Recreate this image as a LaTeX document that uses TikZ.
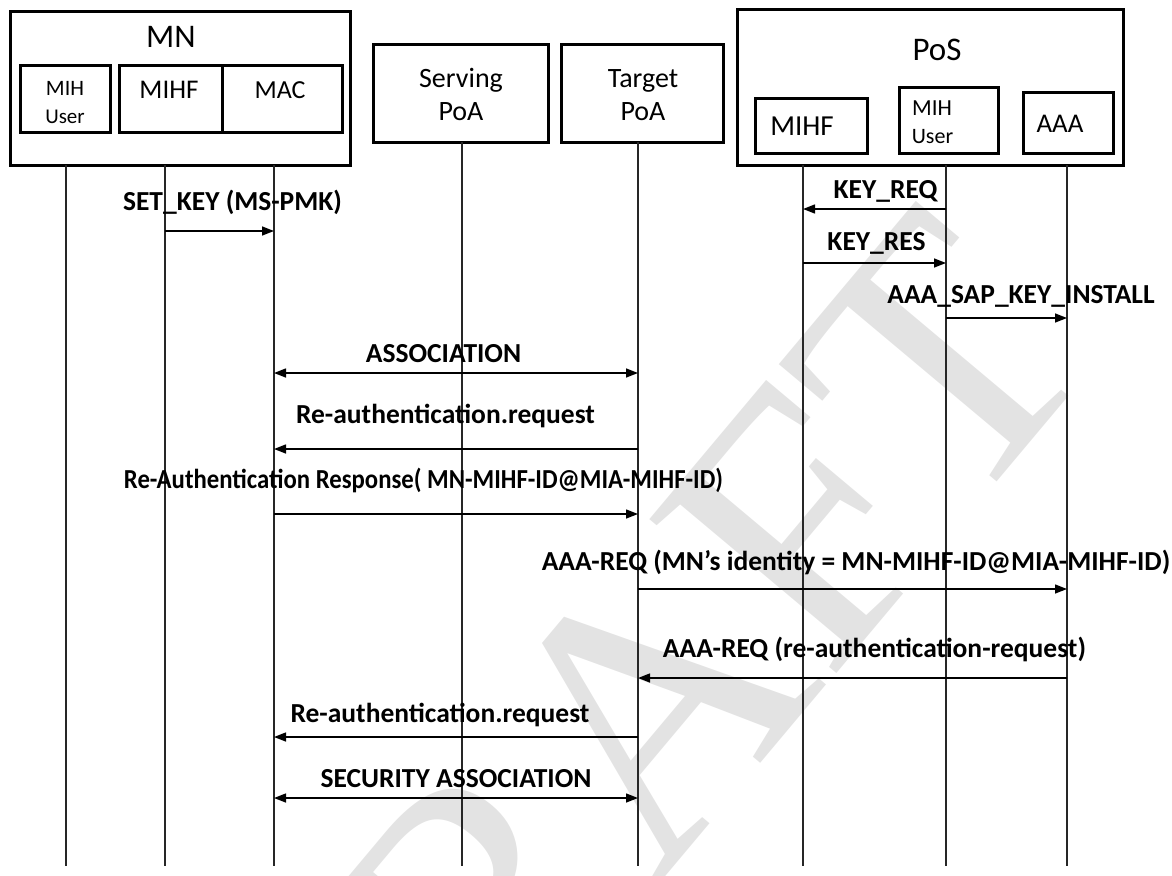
\documentclass[tikz,border=0pt]{standalone}
\usepackage{fontspec}
\setmainfont{Carlito}
\newfontfamily\wmfont{Liberation Serif}
\usetikzlibrary{arrows.meta}

\begin{document}
\begin{tikzpicture}[x=1pt,y=-1pt,
  box/.style={draw, line width=3pt, inner sep=0pt},
  boxtext/.style={anchor=base, inner sep=0pt},
  lifeline/.style={line width=1.2pt, black!85},
  msgtip/.tip={Triangle[length=12pt,width=9pt]},
  msg/.style={line width=1.4pt, -msgtip},
  bimsg/.style={line width=1.4pt, msgtip-msgtip},
  lbl/.style={anchor=base, inner sep=0pt, font=\bfseries\fontsize{27.5}{30}\selectfont},
]
\useasboundingbox (0,0) rectangle (1172,875);
\clip (0,0) rectangle (1172,875);

% watermark behind everything
\node[anchor=base, rotate=50, inner sep=0pt, text=black!11,
      font=\wmfont\fontsize{370}{370}\selectfont] (wm) at (716,817) {DRAFT};

% ---- MN ----
\node[box, minimum width=340pt, minimum height=153pt] (mn) at (180,88.5) {};
\node[boxtext, font=\fontsize{33}{36}\selectfont] (mnT) at (171,48) {MN};
\node[box, minimum width=90pt, minimum height=66pt] (mnuser) at (65,99) {};
\node[boxtext, font=\fontsize{22}{24}\selectfont] (mnuserA) at (65,95) {MIH};
\node[boxtext, font=\fontsize{21}{24}\selectfont] (mnuserB) at (65,123) {User};
\node[box, minimum width=103pt, minimum height=66pt] (mnmihf) at (170.5,99) {};
\node[boxtext, font=\fontsize{27}{30}\selectfont] (mnmihfT) at (169,99) {MIHF};
\node[box, minimum width=120pt, minimum height=66pt] (mnmac) at (282,99) {};
\node[boxtext, font=\fontsize{26}{30}\selectfont] (mnmacT) at (280,98) {MAC};

% ---- PoAs ----
\node[box, minimum width=175pt, minimum height=97pt] (serv) at (460.5,93.5) {};
\node[boxtext, font=\fontsize{28}{30}\selectfont] (servA) at (461,88) {Serving};
\node[boxtext, font=\fontsize{28}{30}\selectfont] (servB) at (461,120) {PoA};
\node[box, minimum width=162pt, minimum height=97pt] (targ) at (642,93.5) {};
\node[boxtext, font=\fontsize{28}{30}\selectfont] (targA) at (643,88) {Target};
\node[boxtext, font=\fontsize{28}{30}\selectfont] (targB) at (643,120) {PoA};

% ---- PoS ----
\node[box, minimum width=386pt, minimum height=155pt] (pos) at (930,87.5) {};
\node[boxtext, font=\fontsize{33}{36}\selectfont] (posT) at (937,60) {PoS};
\node[box, minimum width=112pt, minimum height=55pt] (posmihf) at (811,125.5) {};
\node[boxtext, font=\fontsize{29}{30}\selectfont] (posmihfT) at (802,135) {MIHF};
\node[box, minimum width=99pt, minimum height=66pt] (posuser) at (948.5,120) {};
\node[boxtext, font=\fontsize{23}{24}\selectfont] (posuserA) at (932,115) {MIH};
\node[boxtext, font=\fontsize{22}{24}\selectfont] (posuserB) at (932.5,143) {User};
\node[box, minimum width=90pt, minimum height=61pt] (aaa) at (1068,122.5) {};
\node[boxtext, font=\fontsize{27}{30}\selectfont] (aaaT) at (1060,132) {AAA};

% ---- lifelines ----
\foreach \n/\x/\t in {muser/66/165, mmihf/165/165, mac/274/165, srv/462/142,
                      tgt/638/142, pmihf/803/165, puser/946/165, paaa/1067/165} {
  \coordinate (\n) at (\x,\t);
  \coordinate (\n B) at (\x,866);
  \draw[lifeline] (\n) -- (\n B);
}

% ---- message rows ----
\foreach \r/\y in {m1/231, m2/209, m3/263, m4/318, m5/373, m6/449, m7/514,
                   m8/589, m9/678, m10/737, m11/798} {
  \coordinate (\r) at (0,\y);
}

\draw[msg] (mmihf |- m1) -- (mac |- m1);
\node[lbl] (l1) at (232.5,210) {SET\_KEY (MS-PMK)};

\draw[msg] (puser |- m2) -- (pmihf |- m2);
\node[lbl] (l2) at (885.5,198) {KEY\_REQ};

\draw[msg] (pmihf |- m3) -- (puser |- m3);
\node[lbl] (l3) at (876.5,250) {KEY\_RES};

\draw[msg] (puser |- m4) -- (paaa |- m4);
\node[lbl] (l4) at (1021,303) {AAA\_SAP\_KEY\_INSTALL};

\draw[bimsg] (mac |- m5) -- (tgt |- m5);
\node[lbl] (l5) at (443.5,362) {ASSOCIATION};

\draw[msg] (tgt |- m6) -- (mac |- m6);
\node[lbl] (l6) at (445.5,423) {Re-authentication.request};

\draw[msg] (mac |- m7) -- (tgt |- m7);
\node[lbl] (l7) at (423.5,488)
  {\scalebox{0.9}[1]{Re-Authentication Response( MN-MIHF-ID@MIA-MIHF-ID)}};

\draw[msg] (tgt |- m8) -- (paaa |- m8);
\node[lbl] (l8) at (856,570) {AAA-REQ (MN’s identity = MN-MIHF-ID@MIA-MIHF-ID)};

\draw[msg] (paaa |- m9) -- (tgt |- m9);
\node[lbl] (l9) at (874.5,657) {AAA-REQ (re-authentication-request)};

\draw[msg] (tgt |- m10) -- (mac |- m10);
\node[lbl] (l10) at (440,722) {Re-authentication.request};

\draw[bimsg] (mac |- m11) -- (tgt |- m11);
\node[lbl] (l11) at (456,787) {SECURITY ASSOCIATION};
\end{tikzpicture}
\end{document}
